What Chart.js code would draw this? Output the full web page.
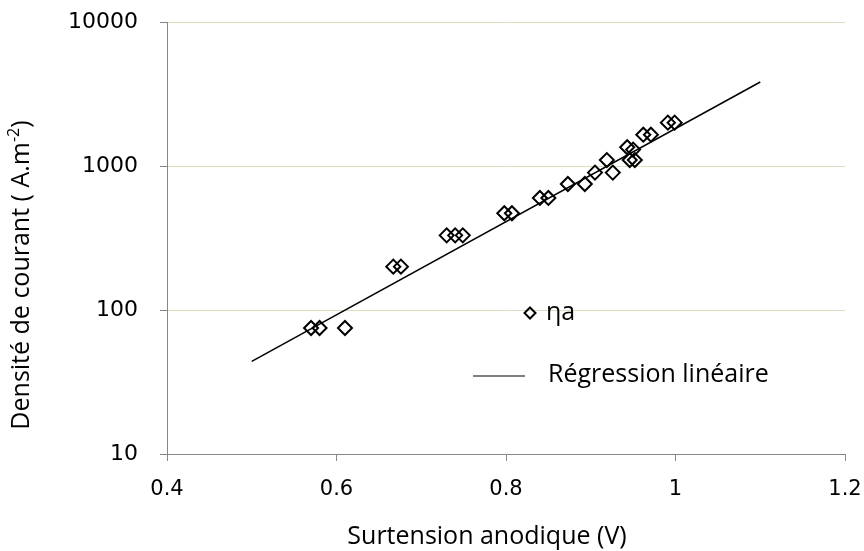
<!DOCTYPE html>
<html>
<head>
<meta charset="utf-8">
<script src="https://cdn.jsdelivr.net/npm/chart.js@4/dist/chart.umd.min.js"></script>
<style>
  html, body { margin: 0; padding: 0; background: #ffffff; }
  #wrap { width: 864px; height: 551px; position: relative; }
</style>
</head>
<body>
<div id="wrap"><canvas id="c" width="864" height="551"></canvas></div>
<script>
// ---- Data ----
const seriesLabels = ['ηa', 'Régression linéaire'];
const overpotential = [0.570, 0.580, 0.610, 0.667, 0.676, 0.730, 0.740, 0.749, 0.798, 0.807,
                       0.840, 0.850, 0.873, 0.893, 0.905, 0.919, 0.926, 0.943, 0.950, 0.946,
                       0.952, 0.962, 0.971, 0.991, 0.999];
const currentDensity = [75, 75, 75, 200, 200, 330, 330, 330, 470, 470,
                        600, 600, 750, 750, 900, 1100, 900, 1350, 1300, 1100,
                        1100, 1650, 1650, 2000, 2000];
const regressionX = [0.5, 1.1];
const regressionY = [44, 3830];
const xTicks = [0.4, 0.6, 0.8, 1.0, 1.2];
const yTicks = [10, 100, 1000, 10000];
const xTitle = 'Surtension anodique (V)';
const yTitleMain = 'Densité de courant ( A.m';
const yTitleSup = '-2';
const yTitleEnd = ')';

const AXIS = '#868686';
const GRID = '#d8e2c0';
const TITLE_FONT = '25px "Open Sans"';
const LEGEND_FONT = '25px "Open Sans"';

const overlay = {
  id: 'overlay',
  afterDraw(chart) {
    const ctx = chart.ctx;
    ctx.save();
    ctx.fillStyle = '#000';
    ctx.font = TITLE_FONT;
    ctx.textBaseline = 'middle';
    // X title
    ctx.textAlign = 'center';
    ctx.fillText(xTitle, 487, 537);
    // Y title with superscript
    ctx.save();
    ctx.translate(22, 275);
    ctx.rotate(-Math.PI / 2);
    ctx.textAlign = 'left';
    const supFont = '16px "Open Sans"';
    ctx.font = TITLE_FONT;
    const w1 = ctx.measureText(yTitleMain).width;
    const w3 = ctx.measureText(yTitleEnd).width;
    ctx.font = supFont;
    const w2 = ctx.measureText(yTitleSup).width;
    let x0 = -(w1 + w2 + w3) / 2;
    ctx.font = TITLE_FONT;
    ctx.fillText(yTitleMain, x0, 0);
    ctx.font = supFont;
    ctx.fillText(yTitleSup, x0 + w1, -8);
    ctx.font = TITLE_FONT;
    ctx.fillText(yTitleEnd, x0 + w1 + w2, 0);
    ctx.restore();

    // Legend
    ctx.font = LEGEND_FONT;
    ctx.textAlign = 'left';
    ctx.textBaseline = 'middle';
    ctx.strokeStyle = '#000';
    ctx.lineWidth = 2;
    const mx = 530, my = 313, r = 5.5;
    ctx.beginPath();
    ctx.moveTo(mx, my - r); ctx.lineTo(mx + r, my); ctx.lineTo(mx, my + r); ctx.lineTo(mx - r, my);
    ctx.closePath();
    ctx.stroke();
    ctx.fillText(chart.data.datasets[0].label, 546, 313);
    ctx.strokeStyle = '#555';
    ctx.lineWidth = 1.5;
    ctx.beginPath();
    ctx.moveTo(473, 376); ctx.lineTo(525, 376);
    ctx.stroke();
    ctx.fillText(chart.data.datasets[1].label, 548, 375);
    ctx.restore();
  }
};

new Chart(document.getElementById('c'), {
  type: 'scatter',
  data: {
    datasets: [
      {
        label: seriesLabels[0],
        data: overpotential.map((x, i) => ({ x: x, y: currentDensity[i] })),
        pointStyle: 'rectRot',
        pointRadius: 7,
        pointBorderWidth: 2,
        borderColor: '#000',
        backgroundColor: 'rgba(0,0,0,0)',
        showLine: false,
        order: 1
      },
      {
        label: seriesLabels[1],
        data: regressionX.map((x, i) => ({ x: x, y: regressionY[i] })),
        showLine: true,
        borderColor: '#000',
        borderWidth: 1.5,
        pointRadius: 0,
        fill: false,
        order: 2
      }
    ]
  },
  options: {
    responsive: false,
    animation: false,
    devicePixelRatio: 1,
    layout: { padding: { left: 0, top: 22, right: 19, bottom: 0 } },
    plugins: {
      legend: { display: false },
      tooltip: { enabled: false },
      title: { display: false }
    },
    scales: {
      x: {
        type: 'linear',
        min: 0.4,
        max: 1.2,
        afterFit(s) { s.height = 97; s.paddingLeft = 0; s.paddingRight = 0; },
        afterBuildTicks(s) { s.ticks = xTicks.map(v => ({ value: v })); },
        ticks: {
          color: '#000',
          font: { family: 'DejaVu Sans', size: 21 },
          padding: 16,
          maxRotation: 0,
          callback: v => String(Math.round(v * 10) / 10)
        },
        grid: {
          drawOnChartArea: false,
          drawTicks: true,
          tickLength: 7,
          tickColor: AXIS,
          tickWidth: 1
        },
        border: { color: AXIS, width: 1 }
      },
      y: {
        type: 'logarithmic',
        min: 10,
        max: 10000,
        afterFit(s) { s.width = 167; s.paddingTop = 0; s.paddingBottom = 0; },
        afterBuildTicks(s) { s.ticks = yTicks.map(v => ({ value: v })); },
        ticks: {
          color: '#000',
          font: { family: 'DejaVu Sans', size: 22 },
          padding: 22,
          callback: v => String(v)
        },
        grid: {
          color: (c) => (c.tick && c.tick.value === 10) ? 'rgba(0,0,0,0)' : GRID,
          lineWidth: 1,
          drawTicks: true,
          tickLength: 7,
          tickColor: AXIS
        },
        border: { color: AXIS, width: 1 }
      }
    }
  },
  plugins: [overlay]
});
</script>
</body>
</html>
